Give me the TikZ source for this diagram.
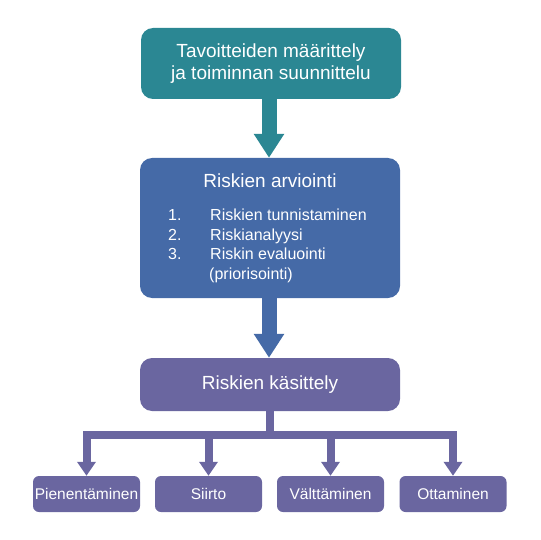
\documentclass[tikz,border=0pt]{standalone}
\usepackage{fontspec}
\setmainfont{Liberation Sans}
\usetikzlibrary{arrows.meta}
\definecolor{tealbox}{RGB}{43,135,147}
\definecolor{bluebox}{RGB}{69,106,167}
\definecolor{purplebox}{RGB}{106,102,160}
\begin{document}
\begin{tikzpicture}[x=1pt,y=-1pt]

    \tikzset{
      bigbox/.style={
        fill=#1,
        rounded corners=12pt,
        minimum width=260pt,
        inner sep=0pt,
        text=white,
        align=center,
        font=\fontsize{19}{22}\selectfont,
      },
      smallbox/.style={
        fill=purplebox,
        rounded corners=6pt,
        minimum width=107pt,
        minimum height=36pt,
        inner sep=0pt,
        text=white,
        font=\fontsize{15.5}{18}\selectfont,
      },
      bigarrow/.style={
        draw=#1,
        line width=15pt,
        -{Triangle[width=29pt,length=24pt]},
      },
      branch/.style={
        draw=purplebox,
        line width=8pt,
        line join=miter,
        -{Triangle[width=18pt,length=14pt]},
      },
    }
    \useasboundingbox (0,0) rectangle (540,540);
	\node[bigbox=tealbox, minimum height=71pt] (tav) at (271,63.5) {Tavoitteiden määrittely\\ja toiminnan suunnittelu};
	\node[bigbox=bluebox, minimum height=140pt] (arv) at (270,228) {};
	\node[text=white, font=\fontsize{19}{22}\selectfont] (arvt) at (270,181) {Riskien arviointi};
	\node[text=white, anchor=base west, inner sep=0pt, font=\fontsize{16}{19.5}\selectfont] (arvl) at (168,220.5) {\begin{tabular}[t]{@{}p{42pt}@{}l@{}}1.&Riskien tunnistaminen\\2.&Riskianalyysi\\3.&Riskin evaluointi\\&\hspace{-1pt}(priorisointi)\end{tabular}};
	\node[bigbox=purplebox, minimum height=53pt] (kas) at (270,384.5) {Riskien käsittely};
	\node[smallbox] (pie) at (86.5,494) {Pienentäminen};
	\node[smallbox] (sii) at (208.5,494) {Siirto};
	\node[smallbox] (val) at (330.5,494) {Välttäminen};
	\node[smallbox] (ott) at (453,494) {Ottaminen};
	\draw[bigarrow=tealbox] (tav.south -| 269,0) -- (arv.north -| 269,0);
	\draw[bigarrow=bluebox] (arv.south -| 269,0) -- (kas.north -| 269,0);
	\draw[branch] (kas.south) -- ++(0,23.5) -| (pie.north);
	\draw[branch] (kas.south) -- ++(0,23.5) -| (sii.north);
	\draw[branch] (kas.south) -- ++(0,23.5) -| (val.north);
	\draw[branch] (kas.south) -- ++(0,23.5) -| (ott.north);

\end{tikzpicture}
\end{document}
